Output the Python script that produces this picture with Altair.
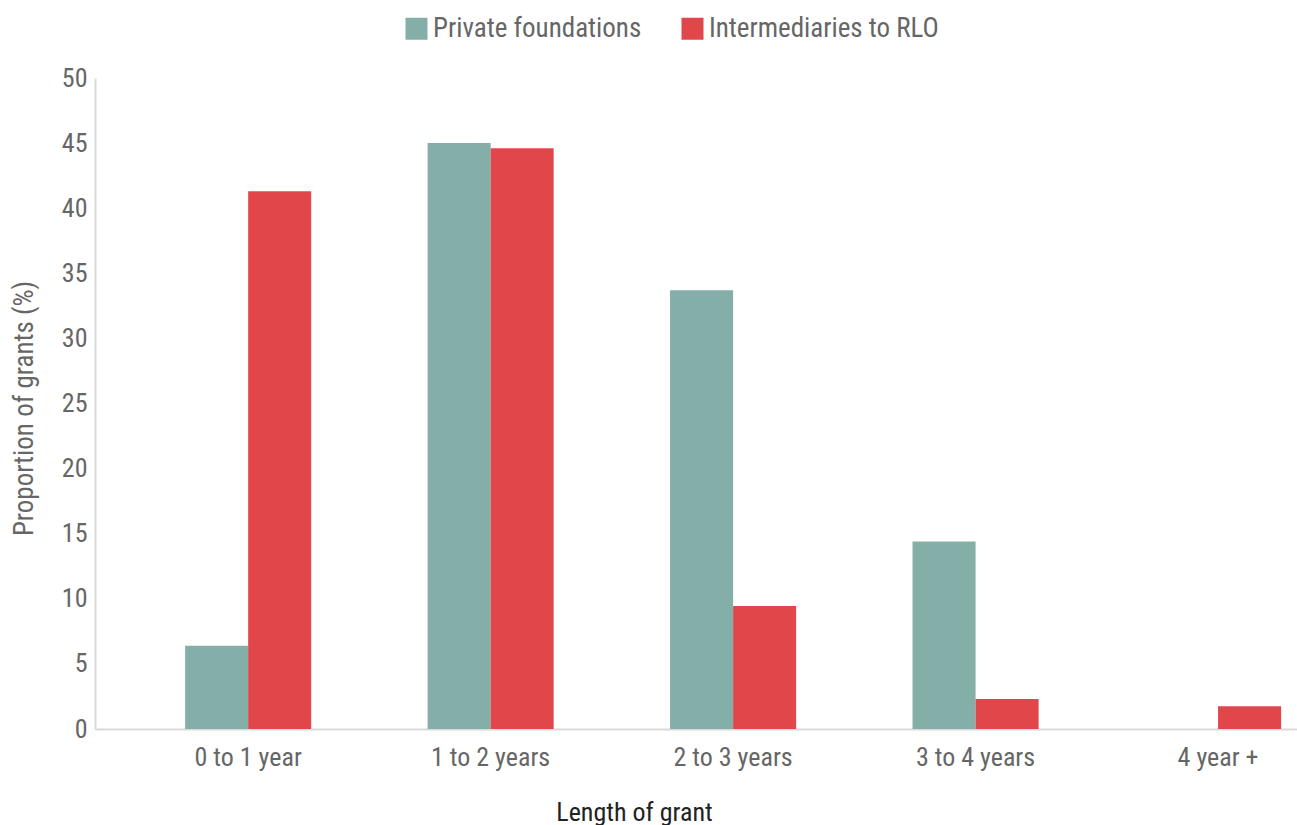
import altair as alt
import pandas as pd

categories = ["0 to 1 year", "1 to 2 years", "2 to 3 years", "3 to 4 years", "4 year +"]
series = ["Private foundations", "Intermediaries to RLO"]
private_foundations = [6.4, 45.0, 33.7, 14.4, 0.0]
intermediaries = [41.3, 44.6, 9.45, 2.3, 1.75]
y_ticks = [0, 5, 10, 15, 20, 25, 30, 35, 40, 45, 50]

rows = []
for c, v in zip(categories, private_foundations):
    rows.append({"Length": c, "Series": series[0], "Value": v})
for c, v in zip(categories, intermediaries):
    rows.append({"Length": c, "Series": series[1], "Value": v})
df = pd.DataFrame(rows)

FONT = "Roboto Condensed, DejaVu Sans Condensed, Roboto, sans-serif"
GRAY = "#666666"
FS = 26

chart = alt.Chart(df).mark_bar().encode(
    x=alt.X("Length:N", sort=categories,
            scale=alt.Scale(paddingInner=0.48, paddingOuter=0.2186, align=0.85),
            axis=alt.Axis(title="Length of grant", labelAngle=0, ticks=False,
                          domainColor="#d9d9d9", domainWidth=2,
                          labelFont=FONT, labelFontSize=FS, labelColor=GRAY,
                          labelPadding=15,
                          titleFont=FONT, titleFontSize=FS, titleColor="#222222",
                          titleFontWeight="normal", titleX=539, titleY=91,
                          titleBaseline="alphabetic")),
    xOffset=alt.XOffset("Series:N", sort=series),
    y=alt.Y("Value:Q",
            scale=alt.Scale(domain=[0, 50], nice=False),
            axis=alt.Axis(title="Proportion of grants (%)", values=y_ticks,
                          grid=False, ticks=False,
                          domainColor="#d9d9d9", domainWidth=2,
                          labelFont=FONT, labelFontSize=FS, labelColor=GRAY,
                          labelPadding=8,
                          titleFont=FONT, titleFontSize=27, titleColor=GRAY,
                          titleFontWeight="normal", titleX=-71, titleY=330,
                          titleAngle=-90, titleBaseline="middle")),
    color=alt.Color("Series:N", sort=series,
                    scale=alt.Scale(domain=series, range=["#84AFA9", "#E1474A"]),
                    legend=alt.Legend(title=None, orient="none", direction="horizontal",
                                      legendX=308, legendY=-63,
                                      symbolType="square", symbolSize=484,
                                      symbolStrokeWidth=0,
                                      labelFont=FONT, labelFontSize=27,
                                      labelColor=GRAY, labelOffset=3,
                                      labelLimit=400,
                                      columnPadding=37)),
).properties(
    width=1202, height=651,
    autosize=alt.AutoSizeParams(type="none"),
    padding={"left": 95, "top": 78, "right": 0, "bottom": 96},
).configure_view(stroke=None)

chart.save("out.html", embed_options={"renderer": "svg", "actions": False})
